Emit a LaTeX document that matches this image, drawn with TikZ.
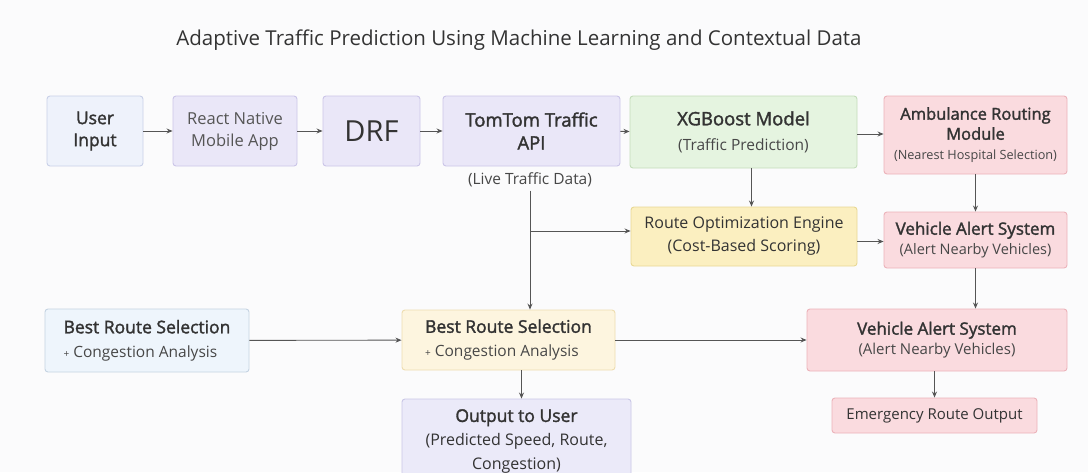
\documentclass[tikz,border=0pt]{standalone}
\usepackage{fontspec}
\setmainfont{Open Sans}
\newfontfamily\headfont[FakeBold=1.8]{Open Sans}
\usetikzlibrary{arrows.meta}

\definecolor{bggray}{HTML}{FBFBFC}
\definecolor{textgray}{HTML}{333333}
\definecolor{subgray}{HTML}{474747}
\definecolor{lightgray}{HTML}{555555}
\definecolor{linegray}{HTML}{555555}
\definecolor{userfill}{HTML}{EEF2FB}\definecolor{userline}{HTML}{C9D0E8}
\definecolor{lavfill}{HTML}{EAE7F8}\definecolor{lavline}{HTML}{CBC5E8}
\definecolor{greenfill}{HTML}{E5F4E0}\definecolor{greenline}{HTML}{C3DDBA}
\definecolor{pinkfill}{HTML}{FADBDF}\definecolor{pinkline}{HTML}{ECB3BA}
\definecolor{yellowfill}{HTML}{FBEFC0}\definecolor{yellowline}{HTML}{E8D894}
\definecolor{bluefill}{HTML}{EEF5FC}\definecolor{blueline}{HTML}{C5D3E2}
\definecolor{creamfill}{HTML}{FDF5DF}\definecolor{creamline}{HTML}{EEDDB0}
\definecolor{outfill}{HTML}{EBEAF9}\definecolor{outborder}{HTML}{C9C7E6}

\newcommand{\subtxt}[1]{{\normalfont\fontsize{15.5}{18}\selectfont\color{subgray}#1}}
\newcommand{\tinytxt}[1]{{\normalfont\fontsize{12.7}{15}\selectfont\color{subgray}#1}}
\newcommand{\outtxt}[1]{{\normalfont\fontsize{16}{21}\selectfont #1}}
\newcommand{\plus}{{\fontsize{10}{10}\selectfont+}}

\begin{document}
\begin{tikzpicture}[x=1pt,y=-1pt,
	every node/.style={align=center,text=textgray},
	box/.style={draw,rounded corners=3pt,line width=0.9pt,inner sep=2pt},
	hd/.style={font=\headfont\fontsize{17.5}{22}\selectfont},
	txt/.style={font=\fontsize{15}{22}\selectfont},
	userbox/.style={box,fill=userfill,draw=userline},
	lavbox/.style={box,fill=lavfill,draw=lavline},
	greenbox/.style={box,fill=greenfill,draw=greenline},
	pinkbox/.style={box,fill=pinkfill,draw=pinkline},
	yellowbox/.style={box,fill=yellowfill,draw=yellowline},
	bluebox/.style={box,fill=bluefill,draw=blueline},
	creambox/.style={box,fill=creamfill,draw=creamline},
	outbox/.style={box,fill=outfill,draw=outborder},
	arr/.style={draw=linegray,line width=0.9pt,-{Stealth[length=6pt,width=5pt]}}]
	\fill[bggray] (0,0) rectangle (1088,472);
	\useasboundingbox (0,0) rectangle (1088,472);

	\node[font=\fontsize{20.5}{24}\selectfont] (title) at (519,40)
		{Adaptive Traffic Prediction Using Machine Learning and Contextual Data};

	\node[userbox,hd,minimum width=96,minimum height=70] (user) at (95,131) {User\\Input};
	\node[lavbox,font=\fontsize{16.5}{22}\selectfont,text=lightgray,minimum width=124,minimum height=70] (react) at (235,131) {React Native\\Mobile App};
	\node[lavbox,font=\fontsize{29}{32}\selectfont,minimum width=97,minimum height=70] (drf) at (371.5,131) {DRF};
	\node[lavbox,hd,minimum width=177,minimum height=70,font=\headfont\fontsize{18.5}{23}\selectfont] (tomtom) at (531.5,131) {TomTom Traffic\\API};
	\node[font=\fontsize{15.5}{18}\selectfont,text=subgray] (live) at (530,180) {(Live Traffic Data)};
	\node[greenbox,minimum width=227,minimum height=72,font=\headfont\fontsize{18.5}{25}\selectfont] (xgb) at (743.5,132) {XGBoost Model\\\subtxt{(Traffic Prediction)}};
	\node[pinkbox,minimum width=183,minimum height=78,font=\headfont\fontsize{16.5}{20}\selectfont] (amb) at (975.5,135) {Ambulance Routing\\Module\\\tinytxt{(Nearest Hospital Selection)}};

	\node[yellowbox,minimum width=226,minimum height=59,font=\fontsize{16}{23}\selectfont] (route) at (744,236.5) {Route Optimization Engine\\(Cost-Based Scoring)};
	\node[pinkbox,minimum width=183,minimum height=56,font=\headfont\fontsize{17}{20}\selectfont] (vaup) at (975.5,240) {Vehicle Alert System\\{\normalfont\fontsize{14.5}{18}\selectfont\color{subgray}(Alert Nearby Vehicles)}};

	\node[bluebox,align=left,minimum width=204,minimum height=63,font=\headfont\fontsize{17.5}{24}\selectfont] (brleft) at (147,340.5) {Best Route Selection\\\subtxt{\plus{} Congestion Analysis}};
	\node[creambox,align=left,minimum width=213,minimum height=60,font=\headfont\fontsize{17.5}{24}\selectfont] (brmid) at (508.5,340) {Best Route Selection\\\subtxt{\plus{} Congestion Analysis}};
	\node[pinkbox,minimum width=260,minimum height=62,font=\headfont\fontsize{17}{20}\selectfont] (valow) at (937,340) {Vehicle Alert System\\{\normalfont\fontsize{15}{18}\selectfont\color{subgray}(Alert Nearby Vehicles)}};

	\node[outbox,minimum width=229,minimum height=85,font=\headfont\fontsize{17.5}{24}\selectfont] (out) at (516.5,441.5) {Output to User\\\outtxt{(Predicted Speed, Route,}\\\outtxt{Congestion)}};
	\node[pinkbox,txt,minimum width=205,minimum height=35] (emerg) at (934.5,415.5) {Emergency Route Output};

	\coordinate (split) at (live.south |- 0,231);

	\draw[arr] (user) -- (react);
	\draw[arr] (react) -- (drf);
	\draw[arr] (drf) -- (tomtom);
	\draw[arr] (tomtom) -- (xgb);
	\draw[arr] ([yshift=-2]xgb.east) -- ([yshift=-2]xgb.east -| amb.west);
	\draw[arr] ([xshift=8]xgb.south) -- ([xshift=8]xgb.south |- route.north);
	\draw[arr] (amb.south) -- (vaup.north);
	\draw[arr] (live.south) -- (live.south |- brmid.north);
	\draw[arr] (split) -- (split -| route.west);
	\draw[arr] ([yshift=-5]route.east) -- ([yshift=-5]route.east -| vaup.west);
	\draw[arr] (vaup.south) -- (vaup.south |- valow.north);
	\draw[arr] (brleft) -- (brmid);
	\draw[arr] (brmid) -- (brmid -| valow.west);
	\draw[arr] ([xshift=13]brmid.south) -- ([xshift=13]brmid.south |- out.north);
	\draw[arr] (valow.south -| emerg) -- (emerg.north);
\end{tikzpicture}
\end{document}
